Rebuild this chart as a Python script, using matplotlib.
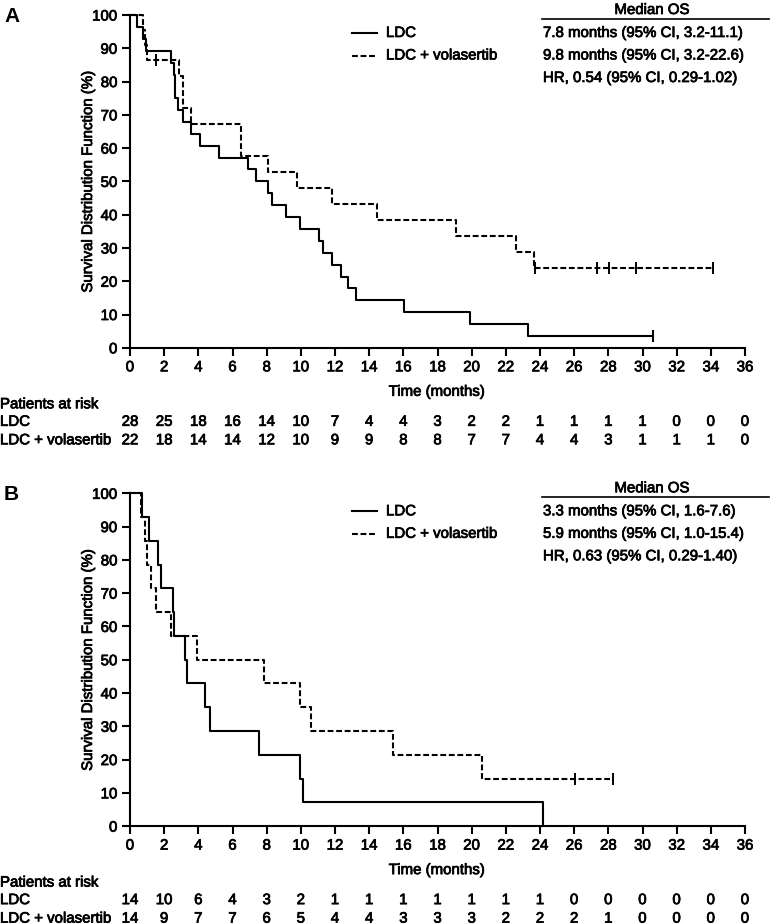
import matplotlib
matplotlib.use("Agg")
import matplotlib.pyplot as plt
from matplotlib.lines import Line2D
import matplotlib.transforms as mtransforms
import matplotlib.patheffects as pe

plt.rcParams['font.family'] = ['Liberation Sans', 'DejaVu Sans']
THICK = [pe.withStroke(linewidth=0.55, foreground='black')]
plt.rcParams['path.effects'] = []

# ---------------- data ----------------
months = list(range(0, 37, 2))
yticks = list(range(0, 101, 10))

# Panel A
A_ldc_t = [0, 0.43, 0.78, 0.95, 2.38, 2.56, 2.65, 2.83, 3.12, 3.59, 4.10, 5.21, 6.93,
           7.36, 8.10, 8.29, 9.11, 9.95, 11.08, 11.32, 11.80, 12.33, 12.74, 13.23,
           16.04, 19.90, 23.30]
A_ldc_s = [100, 96.4, 92.9, 89.3, 85.7, 82.1, 75.0, 71.4, 67.9, 64.3, 60.7, 57.1, 53.6,
           50.0, 46.4, 42.9, 39.3, 35.7, 32.1, 28.6, 25.0, 21.4, 17.9, 14.3,
           10.7, 7.1, 3.6]
A_ldc_end = 30.6
A_ldc_cens = [30.6]

A_vol_t = [0, 0.74, 0.88, 0.98, 2.89, 3.08, 3.55, 6.48, 8.06, 9.76, 11.80, 14.44,
           19.09, 22.60, 23.63]
A_vol_s = [100, 95.5, 90.9, 86.4, 81.6, 72.0, 67.2, 57.6, 52.8, 48.0, 43.2, 38.4,
           33.6, 28.8, 24.0]
A_vol_end = 34.1
A_vol_cens = [1.5, 23.7, 27.36, 28.04, 29.6, 34.1]

A_ldc_risk = [28, 25, 18, 16, 14, 10, 7, 4, 4, 3, 2, 2, 1, 1, 1, 1, 0, 0, 0]
A_vol_risk = [22, 18, 14, 14, 12, 10, 9, 9, 8, 8, 7, 7, 4, 4, 3, 1, 1, 1, 0]
A_table = ["7.8 months (95% CI, 3.2-11.1)",
           "9.8 months (95% CI, 3.2-22.6)",
           "HR, 0.54 (95% CI, 0.29-1.02)"]

# Panel B
B_ldc_t = [0, 0.68, 1.11, 1.66, 1.80, 2.50, 2.58, 3.22, 3.36, 4.39, 4.68, 7.57,
           9.95, 10.15, 24.2]
B_ldc_s = [100, 92.9, 85.7, 78.6, 71.4, 64.3, 57.1, 50.0, 42.9, 35.7, 28.6, 21.4,
           14.3, 7.1, 0]
B_ldc_end = 24.2
B_ldc_cens = []

B_vol_t = [0, 0.63, 0.85, 0.98, 1.23, 1.52, 2.38, 3.94, 7.85, 9.95, 10.60, 15.42, 20.59]
B_vol_s = [100, 92.9, 85.7, 78.6, 71.4, 64.3, 57.1, 50.0, 42.9, 35.7, 28.6, 21.4, 14.3]
B_vol_end = 28.3
B_vol_cens = [26.03, 28.3]

B_ldc_risk = [14, 10, 6, 4, 3, 2, 1, 1, 1, 1, 1, 1, 1, 0, 0, 0, 0, 0, 0]
B_vol_risk = [14, 9, 7, 7, 6, 5, 4, 4, 3, 3, 3, 2, 2, 2, 1, 0, 0, 0, 0]
B_table = ["3.3 months (95% CI, 1.6-7.6)",
           "5.9 months (95% CI, 1.0-15.4)",
           "HR, 0.63 (95% CI, 0.29-1.40)"]

series_names = ["LDC", "LDC + volasertib"]

# ---------------- figure ----------------
W, H = 771, 924
fig = plt.figure(figsize=(W / 100, H / 100), dpi=100)

FS = 10.8
LW = 1.5
DASH = (0, (2.8, 1.3))


def fx(px):
    return px / W


def fy(py):
    return 1 - py / H


def txt(x, y, s, **kw):
    t = fig.text(x, y, s, fontsize=kw.pop('fontsize', FS), **kw)
    t.set_path_effects(THICK)
    return t


def km(ax, t, s, end, cens, ls):
    xs = list(t) + [end]
    ys = list(s) + [s[-1]]
    ax.step(xs, ys, where='post', color='black', lw=LW, linestyle=ls, clip_on=False)
    for c in cens:
        lvl = s[0]
        for ti, si in zip(t, s):
            if ti <= c:
                lvl = si
        ax.plot([c], [lvl], marker='|', color='black', ms=8, mew=1.4, clip_on=False)


def panel(top_px, label, ldc, vol, risk1, risk2, table):
    bottom_px = top_px + 332.8
    ax = fig.add_axes([fx(130), fy(bottom_px), fx(745) - fx(130), fy(top_px) - fy(bottom_px)])
    ax.set_xlim(0, 36)
    ax.set_ylim(0, 100)
    for sp in ['top', 'right']:
        ax.spines[sp].set_visible(False)
    for sp in ['left', 'bottom']:
        ax.spines[sp].set_linewidth(1.5)
    ax.set_xticks(months)
    ax.set_yticks(yticks)
    ax.tick_params(direction='out', length=6, width=1.5, labelsize=FS, pad=3)
    for lab in ax.get_xticklabels() + ax.get_yticklabels():
        lab.set_path_effects(THICK)

    km(ax, *ldc, '-')
    km(ax, *vol, DASH)

    # panel letter
    fig.text(fx(4), fy(top_px + 1), label, fontsize=15, fontweight='bold',
             ha='left', va='center')
    # y label
    txt(fx(88), fy((top_px + bottom_px) / 2), "Survival Distribution Function (%)",
        rotation=90, ha='center', va='center')
    # x label
    txt(fx(437), fy(bottom_px + 44), "Time (months)", ha='center', va='center')

    # legend
    for i, (name, ls) in enumerate(zip(series_names, ['-', DASH])):
        yy = fy(top_px + 18 + 22.5 * i)
        fig.add_artist(Line2D([fx(352), fx(377)], [yy, yy], color='black', lw=LW,
                              linestyle=ls))
        txt(fx(386), yy, name, ha='left', va='center')

    # median OS table
    txt(fx(652), fy(top_px - 5), "Median OS", ha='center', va='center')
    fig.add_artist(Line2D([fx(542), fx(769)], [fy(top_px + 3.5), fy(top_px + 3.5)],
                          color='black', lw=1.2))
    for i, line in enumerate(table):
        txt(fx(543), fy(top_px + 18 + 22.5 * i), line, ha='left', va='center')

    # risk table
    trans = mtransforms.blended_transform_factory(ax.transData, fig.transFigure)
    txt(fx(0), fy(bottom_px + 56.5), "Patients at risk", ha='left', va='center')
    for j, (name, risk) in enumerate(zip(series_names, [risk1, risk2])):
        yy = fy(bottom_px + 74 + 18.5 * j)
        txt(fx(0), yy, name, ha='left', va='center')
        for m, r in zip(months, risk):
            t = ax.text(m, yy, str(r), transform=trans, ha='center', va='center',
                        fontsize=FS)
            t.set_path_effects(THICK)
    return ax


panel(15, "A", (A_ldc_t, A_ldc_s, A_ldc_end, A_ldc_cens),
      (A_vol_t, A_vol_s, A_vol_end, A_vol_cens), A_ldc_risk, A_vol_risk, A_table)
panel(493.3, "B", (B_ldc_t, B_ldc_s, B_ldc_end, B_ldc_cens),
      (B_vol_t, B_vol_s, B_vol_end, B_vol_cens), B_ldc_risk, B_vol_risk, B_table)

fig.savefig("out.png", dpi=100)
